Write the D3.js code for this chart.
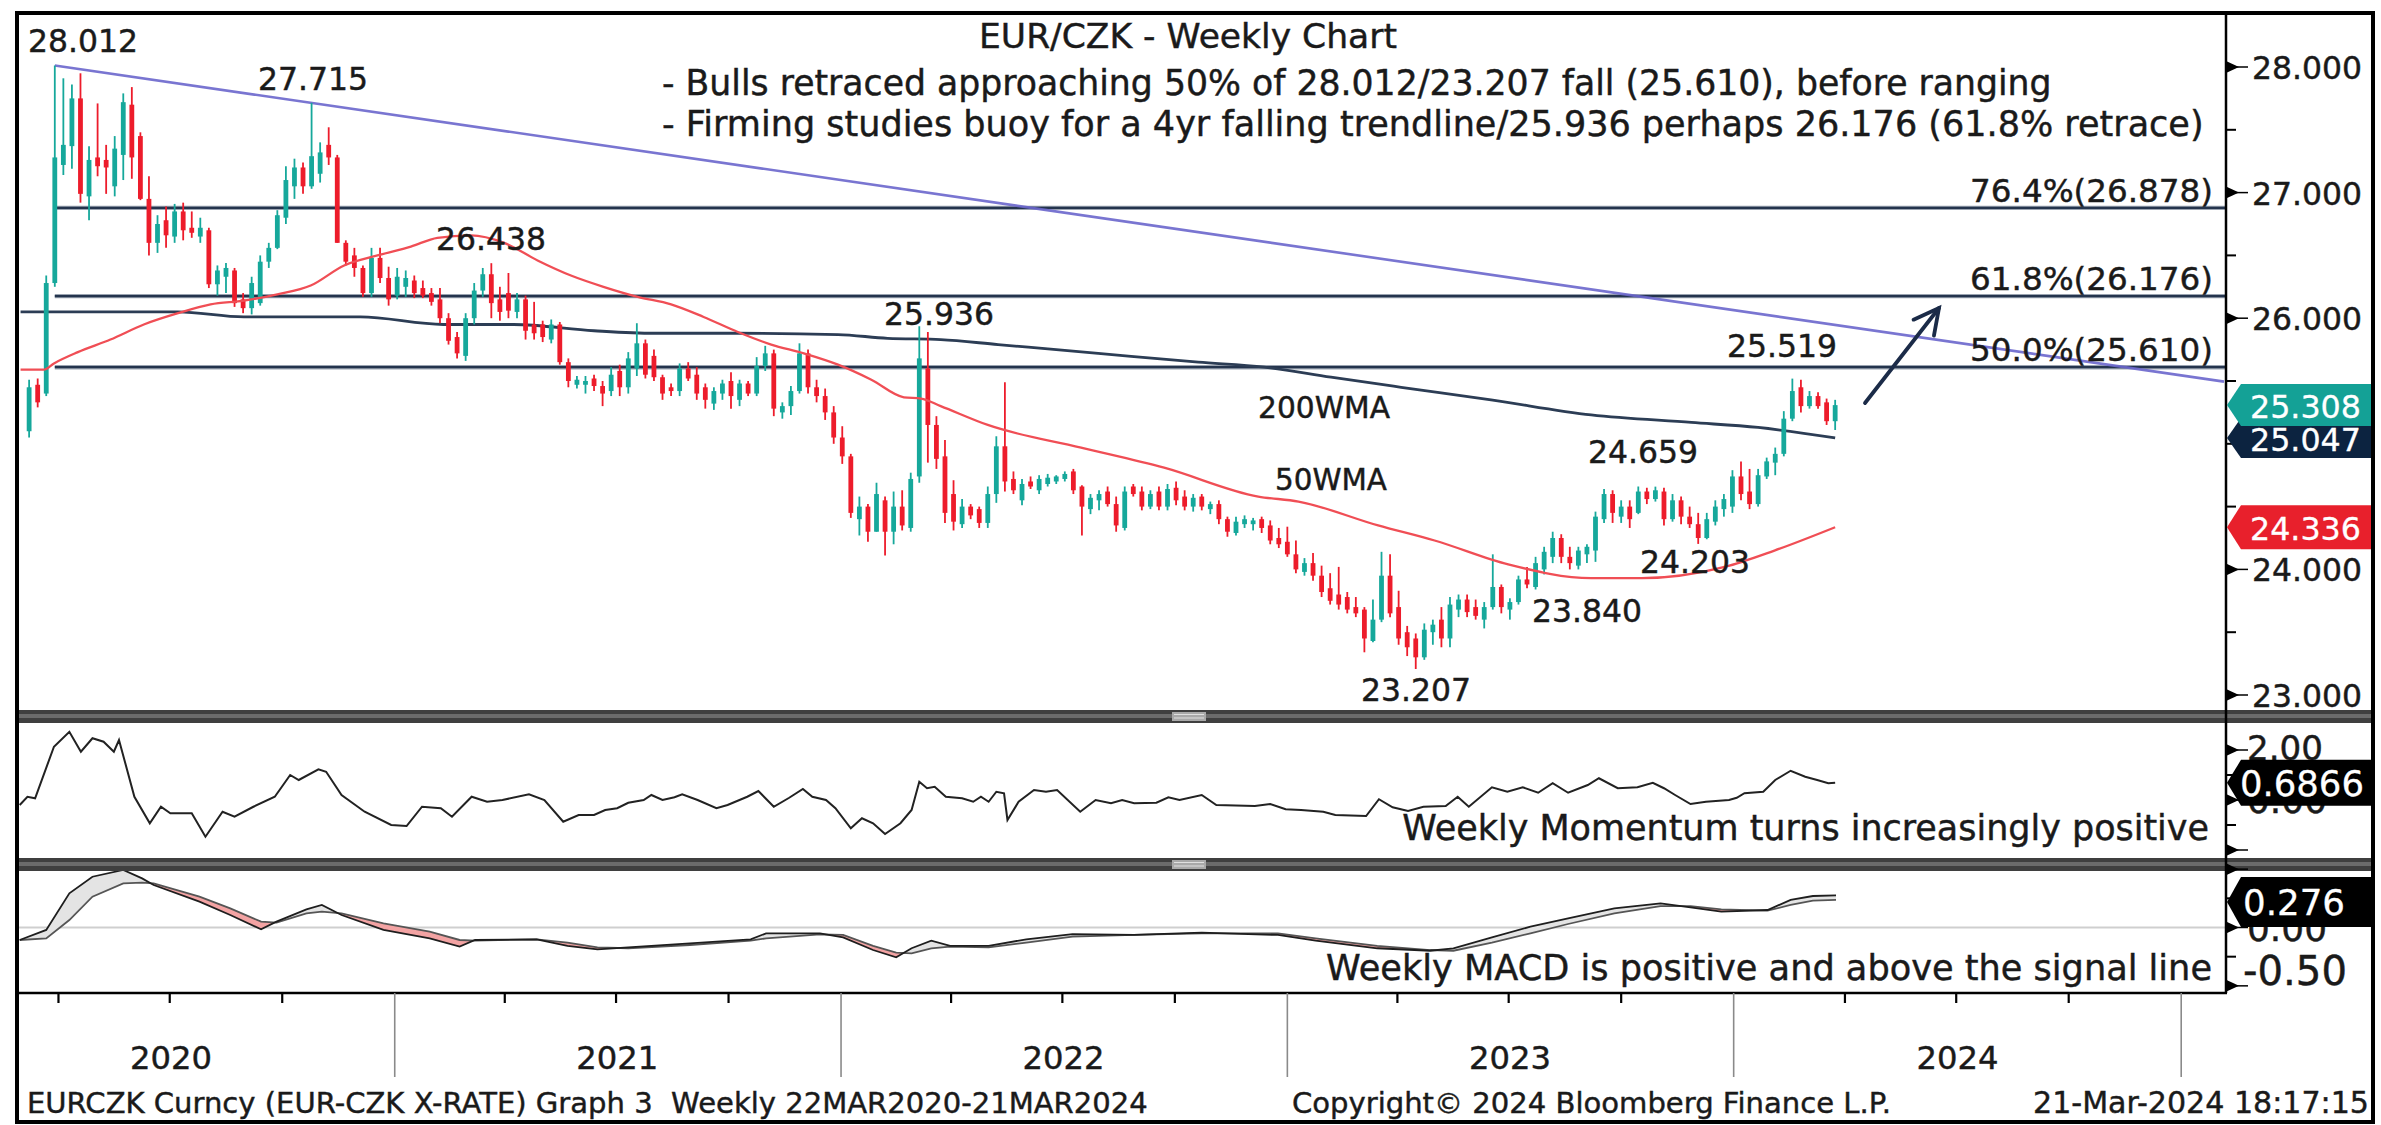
<!DOCTYPE html>
<html><head><meta charset="utf-8">
<script src="https://cdn.jsdelivr.net/npm/d3@7"></script>
<style>
html,body{margin:0;padding:0;background:#fff;}
svg{display:block;}
text{font-family:"DejaVu Sans",Verdana,sans-serif;fill:#1a1a1a;stroke:#1a1a1a;stroke-width:0.45px;}
text.inv{fill:#fff;stroke:#fff;stroke-width:0.3px;}
</style>
</head><body>
<svg id="c" width="2381" height="1125"></svg>
<script>
// ---------------- DATA ----------------
const firstWeek = "2020-03-08";           // weekly candles, one per week
// [open, high, low, close]
const ohlc = [
[25.10,25.51,25.05,25.45],[25.47,25.52,25.29,25.33],[25.40,26.34,25.38,26.28],[26.28,28.012,26.25,27.28],
[27.22,27.91,27.14,27.38],[27.37,27.86,27.19,27.75],[27.75,27.95,26.92,26.99],[26.97,27.37,26.78,27.26],
[27.28,27.71,27.13,27.21],[27.26,27.38,26.99,27.20],[27.05,27.45,26.97,27.35],[27.30,27.79,27.10,27.72],
[27.70,27.84,27.11,27.28],[27.45,27.48,26.94,26.95],[26.95,27.13,26.50,26.60],[26.60,26.82,26.52,26.75],
[26.78,26.89,26.56,26.66],[26.65,26.91,26.60,26.85],[26.85,26.92,26.62,26.70],[26.72,26.85,26.64,26.68],
[26.65,26.80,26.60,26.72],[26.70,26.72,26.24,26.27],[26.27,26.42,26.18,26.38],[26.33,26.44,26.20,26.40],
[26.38,26.40,26.09,26.12],[26.15,26.20,26.04,26.08],[26.08,26.33,26.03,26.28],[26.12,26.50,26.10,26.45],
[26.45,26.60,26.40,26.56],[26.56,26.86,26.55,26.82],[26.80,27.21,26.75,27.10],[27.05,27.27,26.95,27.20],
[27.20,27.24,26.99,27.05],[27.05,27.715,27.03,27.29],[27.15,27.40,27.08,27.32],[27.38,27.52,27.22,27.28],
[27.28,27.30,26.60,26.60],[26.60,26.62,26.42,26.45],[26.50,26.56,26.33,26.40],[26.40,26.42,26.17,26.20],
[26.20,26.56,26.17,26.48],[26.48,26.56,26.28,26.32],[26.32,26.41,26.10,26.15],[26.18,26.40,26.15,26.33],
[26.25,26.38,26.17,26.32],[26.30,26.34,26.16,26.20],[26.24,26.30,26.16,26.18],[26.20,26.24,26.10,26.13],
[26.15,26.24,25.96,26.00],[26.00,26.04,25.79,25.82],[25.85,25.89,25.68,25.72],[25.70,26.04,25.66,26.00],
[26.00,26.28,25.95,26.22],[26.22,26.40,26.17,26.35],
[26.35,26.438,26.00,26.12],[26.15,26.25,25.98,26.05],[26.20,26.36,26.00,26.06],[26.05,26.20,26.00,26.15],
[26.15,26.18,25.83,25.90],[25.95,26.13,25.83,25.88],[25.95,25.98,25.81,25.85],[25.83,25.99,25.80,25.95],
[25.95,25.97,25.63,25.65],[25.65,25.68,25.45,25.50],[25.47,25.54,25.44,25.51],[25.47,25.54,25.40,25.50],
[25.52,25.55,25.42,25.46],[25.46,25.50,25.30,25.40],[25.42,25.61,25.38,25.55],[25.58,25.63,25.38,25.45],
[25.45,25.73,25.40,25.68],[25.60,25.96,25.54,25.80],[25.80,25.83,25.52,25.55],[25.70,25.75,25.50,25.53],
[25.53,25.55,25.35,25.40],[25.45,25.48,25.38,25.42],[25.42,25.64,25.38,25.60],[25.60,25.65,25.50,25.52],
[25.55,25.61,25.35,25.40],[25.45,25.48,25.28,25.35],[25.32,25.45,25.27,25.42],[25.40,25.51,25.35,25.48],
[25.50,25.57,25.28,25.38],[25.35,25.51,25.30,25.48],[25.48,25.50,25.38,25.40],[25.40,25.69,25.38,25.62],
[25.62,25.78,25.58,25.72],[25.72,25.75,25.22,25.28],[25.25,25.33,25.20,25.30],[25.30,25.46,25.23,25.42],
[25.42,25.80,25.40,25.72],[25.72,25.75,25.40,25.45],[25.45,25.51,25.33,25.38],[25.38,25.44,25.19,25.25],
[25.25,25.30,25.00,25.05],[25.05,25.14,24.84,24.90],[24.90,24.92,24.41,24.45],[24.40,24.58,24.27,24.50],
[24.50,24.52,24.22,24.30],[24.30,24.69,24.30,24.60],[24.55,24.58,24.11,24.30],[24.30,24.62,24.20,24.50],
[24.50,24.63,24.31,24.35],[24.33,24.77,24.30,24.72],[24.74,25.936,24.69,25.68],[25.60,25.89,24.85,25.15],
[25.15,25.22,24.80,24.88],[24.90,25.03,24.37,24.45],[24.60,24.71,24.31,24.38],[24.36,24.56,24.33,24.50],
[24.50,24.52,24.40,24.43],[24.48,24.50,24.33,24.37],[24.37,24.66,24.33,24.60],[24.60,25.06,24.53,24.98],
[24.98,25.49,24.62,24.70],[24.72,24.78,24.60,24.63],[24.55,24.72,24.51,24.68],[24.70,24.74,24.64,24.66],
[24.63,24.75,24.60,24.72],[24.68,24.76,24.66,24.73],[24.70,24.75,24.68,24.74],[24.72,24.78,24.70,24.76],
[24.78,24.80,24.60,24.63],[24.66,24.67,24.27,24.50],[24.48,24.60,24.44,24.57],[24.55,24.63,24.47,24.60],
[24.62,24.66,24.50,24.52],[24.52,24.58,24.30,24.35],[24.33,24.66,24.31,24.62],[24.66,24.68,24.58,24.60],
[24.62,24.66,24.47,24.50],[24.50,24.63,24.48,24.60],[24.62,24.66,24.47,24.50],[24.50,24.68,24.47,24.64],
[24.65,24.70,24.51,24.55],[24.58,24.63,24.47,24.50],[24.50,24.60,24.46,24.57],[24.58,24.60,24.47,24.50],
[24.48,24.54,24.44,24.52],[24.52,24.55,24.36,24.40],[24.40,24.42,24.26,24.30],[24.29,24.42,24.27,24.38],
[24.36,24.43,24.33,24.40],[24.36,24.41,24.31,24.39],[24.40,24.42,24.29,24.33],[24.35,24.39,24.20,24.23],
[24.25,24.33,24.17,24.20],[24.22,24.34,24.10,24.12],[24.12,24.23,23.97,24.00],[23.98,24.09,23.95,24.05],
[24.05,24.13,23.91,23.95],[23.95,24.03,23.78,23.82],[23.85,23.97,23.72,23.75],[23.80,24.02,23.68,23.72],
[23.78,23.82,23.65,23.68],[23.70,23.78,23.62,23.65],[23.68,23.70,23.34,23.45],[23.43,23.76,23.42,23.60],
[23.60,24.14,23.58,23.95],[23.95,24.12,23.62,23.65],[23.70,23.83,23.40,23.45],[23.50,23.55,23.31,23.38],
[23.45,23.49,23.207,23.30],[23.30,23.57,23.28,23.52],[23.50,23.60,23.40,23.56],[23.60,23.70,23.38,23.45],
[23.45,23.78,23.38,23.72],[23.68,23.80,23.62,23.76],[23.76,23.80,23.62,23.66],[23.70,23.76,23.60,23.63],
[23.60,23.74,23.53,23.70],[23.70,24.12,23.68,23.86],[23.86,23.88,23.65,23.70],[23.68,23.77,23.60,23.74],
[23.74,23.95,23.72,23.92],[23.92,24.02,23.85,23.88],[23.86,24.10,23.84,24.05],[24.00,24.18,23.96,24.14],
[24.10,24.30,24.05,24.25],[24.25,24.28,24.05,24.10],[24.10,24.18,24.00,24.05],[24.03,24.18,24.00,24.15],
[24.12,24.20,24.05,24.18],[24.15,24.46,24.06,24.42],[24.40,24.64,24.37,24.60],[24.60,24.63,24.37,24.45],
[24.42,24.55,24.37,24.50],[24.50,24.55,24.33,24.40],[24.45,24.66,24.44,24.62],[24.62,24.65,24.52,24.56],
[24.56,24.659,24.54,24.63],[24.62,24.65,24.35,24.40],[24.40,24.60,24.38,24.55],[24.55,24.58,24.36,24.42],
[24.42,24.50,24.33,24.36],[24.36,24.45,24.203,24.25],[24.25,24.45,24.24,24.40],[24.38,24.55,24.35,24.50],
[24.48,24.60,24.42,24.56],[24.50,24.79,24.45,24.74],[24.74,24.86,24.55,24.60],[24.62,24.80,24.48,24.52],
[24.52,24.80,24.50,24.75],[24.74,24.89,24.72,24.86],[24.85,24.97,24.75,24.92],[24.92,25.26,24.90,25.20],
[25.20,25.519,25.18,25.42],[25.45,25.51,25.25,25.30],[25.30,25.42,25.28,25.38],[25.38,25.41,25.28,25.30],
[25.33,25.36,25.15,25.18],[25.18,25.35,25.11,25.308]
];
// moving averages: [week index, value]
const wma50 = [[-1,25.59],[1.7,25.59],[2.9,25.64],[5.7,25.73],[9.5,25.83],[13.4,25.95],[17.4,26.04],[21.2,26.11],
[25.1,26.14],[29,26.19],[32.9,26.26],[36.8,26.42],[40.7,26.50],[44.6,26.57],[47.7,26.64],[51.6,26.66],[55.5,26.60],
[59.4,26.46],[63.3,26.34],[67.1,26.25],[71.1,26.17],[75,26.11],[78.8,26.01],[82.8,25.89],[86.7,25.79],[90.5,25.72],
[94.5,25.63],[98.4,25.51],[102.2,25.37],[104.2,25.36],[106.5,25.30],[112,25.15],[122.9,24.97],[132.6,24.81],
[143.6,24.58],[148.3,24.54],[157.6,24.35],[164.2,24.23],[172.8,24.04],[182.5,23.93],[188.4,23.93],[198.1,24.02],
[203.9,24.15],[211,24.336]];
const wma200 = [[-1,26.05],[17.4,26.05],[25.1,26.01],[38.7,26.01],[48.4,25.95],[56.6,25.95],[66,25.90],[73,25.88],
[82.8,25.88],[94.5,25.87],[100.3,25.84],[106.5,25.83],[113.2,25.79],[124.9,25.72],[136.6,25.65],[144.3,25.61],
[152.1,25.53],[160.3,25.45],[170.8,25.35],[182.5,25.23],[194.2,25.17],[202,25.13],[211,25.047]];
// retracement levels
const fibLevels = [26.878, 26.176, 25.610];
const fibLabels = ["76.4%(26.878)", "61.8%(26.176)", "50.0%(25.610)"];
// falling trendline: from the 28.012 peak (week 3) to the right edge
const trendStart = [3, 28.012];
const trendEndValue = 25.495;
// momentum: [week index, value]
const momentum = [[-1.1,-0.2],[-0.2,0.13],[0.7,0.07],[2.9,2.13],[4.7,2.73],[6.05,1.93],[7.4,2.47],[8.7,2.33],[9.9,1.93],
[10.5,2.4],[12.3,0.13],[14.1,-0.93],[15.4,-0.27],[16.5,-0.53],[19.0,-0.53],[20.6,-1.47],[22.6,-0.47],[24,-0.67],
[26.2,-0.27],[28.7,0.13],[30.5,1.0],[31.5,0.8],[33.8,1.23],[34.7,1.13],[36.5,0.2],[39.2,-0.47],[42.3,-1.0],[44.1,-1.04],
[45.9,-0.27],[48.1,-0.33],[49.4,-0.67],[51.7,0.13],[53.5,-0.07],[55.3,0],[58.4,0.23],[60.2,0],[62.4,-0.87],[64.2,-0.6],
[66,-0.6],[67.3,-0.4],[68.7,-0.33],[70,-0.11],[71.8,0],[72.7,0.2],[74,0],[75.4,0.11],[76.3,0.23],[78.1,0],[80.3,-0.33],
[81.6,-0.2],[83.9,0.13],[85.2,0.36],[87,-0.27],[88.8,0.09],[90.4,0.44],[91.5,0.13],[93.1,0],[94.2,-0.33],[96,-1.13],
[97.3,-0.73],[98.6,-0.93],[100,-1.36],[101.8,-0.93],[103.1,-0.4],[104,0.73],[104.9,0.47],[105.8,0.53],[107.1,0.13],
[109,0.07],[110.3,-0.07],[111.2,0.13],[112.1,-0.07],[113,0.33],[113.9,0.27],[114.3,-0.8],[115.6,-0.07],[117.4,0.4],
[118.8,0.33],[120.1,0.4],[122.8,-0.47],[124.6,0],[126.4,-0.13],[127.7,0],[129.1,-0.13],[131.7,-0.11],[133.1,0.11],
[134.4,0],[137,0.2],[138.7,-0.2],[143.2,-0.24],[145,-0.16],[146.8,-0.37],[148.6,-0.4],[151.2,-0.47],[152.6,-0.6],
[156.2,-0.64],[157.7,0.03],[159.3,-0.29],[161.1,-0.44],[162.9,-0.27],[165.5,-0.24],[166.9,0.13],[168.2,-0.27],
[170.9,0.51],[172.7,0.33],[174.5,0.51],[176.3,0.29],[178,0.67],[179.8,0.29],[182.1,0.6],[183.4,0.87],[185.6,0.47],
[187.9,0.51],[189.7,0.69],[191,0.47],[192.3,0.2],[194.1,-0.16],[195.9,-0.07],[198.6,0],[199.5,0.09],[200.4,0.27],
[202.6,0.33],[204,0.8],[205.8,1.17],[207.5,0.93],[208.9,0.8],[210.2,0.67],[211,0.6866]];
// MACD: [week index, macd, signal]
const macd = [[-1.1,-0.107,-0.107],[2.0,-0.021,-0.093],[4.7,0.293,0.064],[7.4,0.435,0.264],[11,0.493,0.378],
[13.2,0.421,0.384],[14.55,0.364,0.378],[19.9,0.221,0.264],[23.5,0.107,0.164],[27.1,-0.016,0.050],[28.9,0.050,0.041],
[32.4,0.156,0.121],[34.2,0.193,0.136],[36.5,0.107,0.121],[41.4,-0.021,0.036],[46.8,-0.093,-0.036],[50.3,-0.164,-0.107],
[52.1,-0.107,-0.113],[59.3,-0.101,-0.101],[62.9,-0.158,-0.130],[66.4,-0.187,-0.170],[70,-0.170,-0.178],
[77.2,-0.136,-0.150],[84.3,-0.101,-0.113],[86.1,-0.050,-0.093],[92.4,-0.050,-0.059],[95.1,-0.084,-0.064],
[98.6,-0.193,-0.158],[101.3,-0.256,-0.216],[103.1,-0.178,-0.221],[105.4,-0.113,-0.178],[107.6,-0.158,-0.164],
[112.1,-0.158,-0.170],[116.5,-0.101,-0.130],[121.9,-0.056,-0.078],[129.1,-0.064,-0.064],[137,-0.044,-0.050],
[145.9,-0.064,-0.050],[150.3,-0.113,-0.093],[157.5,-0.178,-0.158],[163.7,-0.199,-0.193],[166.4,-0.178,-0.199],
[170.9,-0.084,-0.130],[175.4,0.007,-0.050],[179.8,0.079,0.030],[185.2,0.164,0.121],[190.6,0.207,0.184],
[194.1,0.173,0.184],[197.7,0.136,0.156],[203.1,0.150,0.144],[205.8,0.236,0.193],[208.4,0.270,0.230],[211.1,0.276,0.236]];
const lastClose = 25.308, last200 = 25.047, last50 = 24.336, lastMom = 0.6866, lastMacd = 0.276;
const mainTicks = [23, 24, 26, 27, 28];      // 25.000 sits under the value boxes
const mainMinor = [23.5, 24.5, 25, 25.5, 26.5, 27.5];
const years = [2020, 2021, 2022, 2023, 2024];

// ---------------- LAYOUT ----------------
const svg = d3.select("#c");
const PL = 19, PR = 2226, FR = 2373;
const MT = 15, MB = 710, S1 = 710, MOT = 723, MOB = 858, S2 = 858, MAT = 870, MAB = 993;
const UP = "#16a89b", DN = "#ed1c2b";
const DAY = 864e5;
const w0 = Date.parse(firstWeek + "T00:00:00Z");
const idxDate = i => new Date(w0 + i * 7 * DAY);

const x = d3.scaleUtc().domain([new Date(Date.UTC(2020,1,23)), new Date(Date.UTC(2025,1,5))]).range([12, 2224]);
const y = d3.scaleLinear().domain([23, 28]).range([695, 67]);
const yMom = d3.scaleLinear().domain([-2, 2]).range([850, 750]);
const yMacd = d3.scaleLinear().domain([-0.5, 0]).range([985.85, 927.5]);
const xi = i => x(idxDate(i));

const defs = svg.append("defs");
function clip(id, y0, y1){ defs.append("clipPath").attr("id", id).append("rect").attr("x", PL).attr("y", y0).attr("width", PR - PL - 1).attr("height", y1 - y0); }
clip("cMain", MT, MB); clip("cMom", MOT, MOB); clip("cMacd", MAT, MAB);

svg.append("rect").attr("width", 2381).attr("height", 1125).attr("fill", "#fff");

// ---- main panel ----
const gM = svg.append("g").attr("clip-path", "url(#cMain)");
fibLevels.forEach(v => {
  gM.append("line").attr("x1", xi(trendStart[0])).attr("x2", PR).attr("y1", y(v)).attr("y2", y(v))
    .attr("stroke", "#9aa3b0").attr("stroke-width", 4.4);
  gM.append("line").attr("x1", xi(trendStart[0])).attr("x2", PR).attr("y1", y(v)).attr("y2", y(v))
    .attr("stroke", "#24344d").attr("stroke-width", 2.3);
});
gM.append("line").attr("x1", xi(trendStart[0])).attr("y1", y(trendStart[1]))
  .attr("x2", x.range()[1]).attr("y2", y(trendEndValue))
  .attr("stroke", "#6a66cc").attr("stroke-width", 2.6).attr("stroke-opacity", 0.9);
const lineMA = d3.line().x(d => xi(d[0])).y(d => y(d[1])).curve(d3.curveMonotoneX);
gM.append("path").attr("d", lineMA(wma200)).attr("fill", "none").attr("stroke", "#2c3d55").attr("stroke-width", 2.8);
const cg = gM.append("g");
cg.selectAll("line").data(ohlc).join("line")
  .attr("x1", (d, i) => xi(i)).attr("x2", (d, i) => xi(i))
  .attr("y1", d => y(d[1])).attr("y2", d => y(d[2]))
  .attr("stroke", d => d[3] >= d[0] ? UP : DN).attr("stroke-width", 1.8);
cg.selectAll("rect").data(ohlc).join("rect")
  .attr("x", (d, i) => xi(i) - 2.4).attr("width", 4.8)
  .attr("y", d => y(Math.max(d[0], d[3])))
  .attr("height", d => Math.max(1.6, y(Math.min(d[0], d[3])) - y(Math.max(d[0], d[3]))))
  .attr("fill", d => d[3] >= d[0] ? UP : DN);
gM.append("path").attr("d", lineMA(wma50)).attr("fill", "none").attr("stroke", "#f04e55").attr("stroke-width", 2.3);

// arrow
(function(){
  const x1 = 1865, y1 = 403, x2 = 1939, y2 = 308;
  const g = svg.append("g").attr("stroke", "#1b2b48").attr("stroke-width", 3.8).attr("stroke-linecap", "round").attr("fill", "none");
  g.append("line").attr("x1", x1).attr("y1", y1).attr("x2", x2).attr("y2", y2);
  const a = Math.atan2(y1 - y2, x1 - x2), L = 28, sp = 0.48;
  g.append("path").attr("d", `M${x2 + L*Math.cos(a+sp)},${y2 + L*Math.sin(a+sp)}L${x2},${y2}L${x2 + L*Math.cos(a-sp)},${y2 + L*Math.sin(a-sp)}`);
})();

function fitW(t, w){ const L = t.node().getComputedTextLength(); const fs = parseFloat(t.attr("font-size")); t.attr("font-size", (fs * w / L).toFixed(2)); return t; }
function txt(s, xx, yy, fs, anchor){ return svg.append("text").attr("x", xx).attr("y", yy).attr("font-size", fs).attr("text-anchor", anchor || "start").text(s); }

const notes = [["28.012",28,52],["27.715",258,90],["26.438",436,250],["25.936",884,325],["25.519",1727,357],
  ["24.659",1588,463],["24.203",1640,573],["23.840",1532,622],["23.207",1361,701]];
notes.forEach(n => fitW(txt(n[0], n[1], n[2], 31), 110));
fitW(txt("200WMA", 1258, 418, 31), 132);
fitW(txt("50WMA", 1275, 490, 31), 112);
fibLabels.forEach((s, k) => fitW(txt(s, 2213, y(fibLevels[k]) - 6, 31, "end"), 243));

fitW(txt("EUR/CZK - Weekly Chart", 1188, 48, 33, "middle"), 418);
fitW(txt("- Bulls retraced approaching 50% of 28.012/23.207 fall (25.610), before ranging", 662, 95, 31), 1390);
fitW(txt("- Firming studies buoy for a 4yr falling trendline/25.936 perhaps 26.176 (61.8% retrace)", 662, 136, 31), 1542);

// ---- momentum panel ----
const gMo = svg.append("g").attr("clip-path", "url(#cMom)");
gMo.append("path").attr("d", d3.line().x(d => xi(d[0])).y(d => yMom(d[1]))(momentum))
  .attr("fill", "none").attr("stroke", "#222").attr("stroke-width", 2);
fitW(txt("Weekly Momentum turns increasingly positive", 2209, 840, 31, "end"), 807);

// ---- MACD panel ----
const gMa = svg.append("g").attr("clip-path", "url(#cMacd)");
gMa.append("line").attr("x1", PL).attr("x2", PR).attr("y1", yMacd(0)).attr("y2", yMacd(0)).attr("stroke", "#cfcfcf").attr("stroke-width", 2);
const mx = d => xi(d[0]);
const aboveSig = d3.area().x(mx).y0(MAT).y1(d => yMacd(d[2]));
const belowSig = d3.area().x(mx).y0(MAB).y1(d => yMacd(d[2]));
defs.append("clipPath").attr("id", "cAboveSig").append("path").attr("d", aboveSig(macd));
defs.append("clipPath").attr("id", "cBelowSig").append("path").attr("d", belowSig(macd));
gMa.append("g").attr("clip-path", "url(#cAboveSig)").append("path")
  .attr("d", d3.area().x(mx).y0(MAB).y1(d => yMacd(d[1]))(macd)).attr("fill", "#e4e4e4");
gMa.append("g").attr("clip-path", "url(#cBelowSig)").append("path")
  .attr("d", d3.area().x(mx).y0(MAT).y1(d => yMacd(d[1]))(macd)).attr("fill", "#f3a3a3");
gMa.append("path").attr("d", d3.line().x(mx).y(d => yMacd(d[2]))(macd)).attr("fill", "none").attr("stroke", "#555").attr("stroke-width", 1.8);
gMa.append("path").attr("d", d3.line().x(mx).y(d => yMacd(d[1]))(macd)).attr("fill", "none").attr("stroke", "#1e1e1e").attr("stroke-width", 1.8);
fitW(txt("Weekly MACD is positive and above the signal line", 2212, 980, 31, "end"), 886);

// ---- separators ----
function sep(y0){
  svg.append("rect").attr("x", 17).attr("y", y0).attr("width", FR - 17).attr("height", 13).attr("fill", "#3f3f3f");
  svg.append("rect").attr("x", 17).attr("y", y0 + 4).attr("width", FR - 17).attr("height", 4).attr("fill", "#6b6b6b");
  svg.append("rect").attr("x", 1172).attr("y", y0 + 2).attr("width", 34).attr("height", 9).attr("fill", "#a9a9a9");
  [4.5, 8].forEach(d => svg.append("line").attr("x1", 1174).attr("x2", 1204).attr("y1", y0 + d).attr("y2", y0 + d).attr("stroke", "#e0e0e0").attr("stroke-width", 1));
}
sep(S1); sep(S2);

// ---- right axis ----
svg.append("line").attr("x1", PR).attr("x2", PR).attr("y1", 13).attr("y2", MAB).attr("stroke", "#000").attr("stroke-width", 2.5);
svg.append("line").attr("x1", 17).attr("x2", PR + 1).attr("y1", MAB).attr("y2", MAB).attr("stroke", "#000").attr("stroke-width", 2.5);
function arrowTick(yy){
  svg.append("path").attr("d", `M${PR},${yy-6}L${PR+13},${yy}L${PR},${yy+6}Z`).attr("fill", "#000");
  svg.append("line").attr("x1", PR + 10).attr("x2", PR + 22).attr("y1", yy).attr("y2", yy).attr("stroke", "#000").attr("stroke-width", 1.5);
}
function minorTick(yy){ svg.append("line").attr("x1", PR).attr("x2", PR + 10).attr("y1", yy).attr("y2", yy).attr("stroke", "#000").attr("stroke-width", 2); }
mainTicks.forEach(v => { arrowTick(y(v)); fitW(txt(d3.format(".3f")(v), 2252, y(v) + 12, 31), 110); });
mainMinor.forEach(v => minorTick(y(v)));
[2, 0, -2].forEach(v => arrowTick(yMom(v)));
[1, -1].forEach(v => minorTick(yMom(v)));
fitW(txt("2.00", 2247, 760, 29), 76);
fitW(txt("0.00", 2247, yMom(0) + 13, 31), 80);
[0.5, 0, -0.5].forEach(v => arrowTick(yMacd(v)));
[0.25, -0.25].forEach(v => minorTick(yMacd(v)));
fitW(txt("0.00", 2247, yMacd(0) + 13, 31), 80);
fitW(txt("-0.50", 2243, 985, 31), 104);

function valBox(yc, h, fill, s, xt, w){
  svg.append("path").attr("d", `M${PR+1},${yc}L${PR+15},${yc-h/2}L${FR},${yc-h/2}L${FR},${yc+h/2}L${PR+15},${yc+h/2}Z`).attr("fill", fill);
  fitW(txt(s, xt, yc + 13, 31).attr("class", "inv"), w);
}
valBox(y(last200), 40, "#0c2340", d3.format(".3f")(last200), 2250, 111);
valBox(y(lastClose), 42, "#14a196", d3.format(".3f")(lastClose), 2250, 111);
valBox(y(last50), 44, "#e8202c", d3.format(".3f")(last50), 2250, 111);
valBox(yMom(lastMom), 46, "#000", d3.format(".4f")(lastMom), 2240, 124);
valBox(Math.max(yMacd(lastMacd), MAT + 32), 50, "#000", d3.format(".3f")(lastMacd), 2243, 102);

// ---- time axis ----
const qt = d3.utcMonth.every(3).range(new Date(Date.UTC(2020,3,1)), new Date(Date.UTC(2025,0,2)));
qt.forEach(d => {
  const xx = x(d);
  if (d.getUTCMonth() === 0) {
    svg.append("line").attr("x1", xx).attr("x2", xx).attr("y1", MAB).attr("y2", 1077).attr("stroke", "#8a8a8a").attr("stroke-width", 1.6);
  } else {
    svg.append("line").attr("x1", xx).attr("x2", xx).attr("y1", MAB).attr("y2", 1003).attr("stroke", "#000").attr("stroke-width", 2.2);
  }
});
years.forEach(yr => fitW(txt(String(yr), x(new Date(Date.UTC(yr, 6, 2))), 1069, 32, "middle"), 82));

// ---- footer ----
fitW(txt("EURCZK Curncy (EUR-CZK X-RATE) Graph 3  Weekly 22MAR2020-21MAR2024", 27, 1113, 27).style("white-space", "pre"), 1121);
fitW(txt("Copyright\u00A9 2024 Bloomberg Finance L.P.", 1292, 1113, 27), 599);
fitW(txt("21-Mar-2024 18:17:15", 2369, 1113, 27, "end"), 336);

// frame
svg.append("rect").attr("x", 17).attr("y", 13).attr("width", FR - 17).attr("height", 1109)
  .attr("fill", "none").attr("stroke", "#000").attr("stroke-width", 4);
</script>
</body></html>
